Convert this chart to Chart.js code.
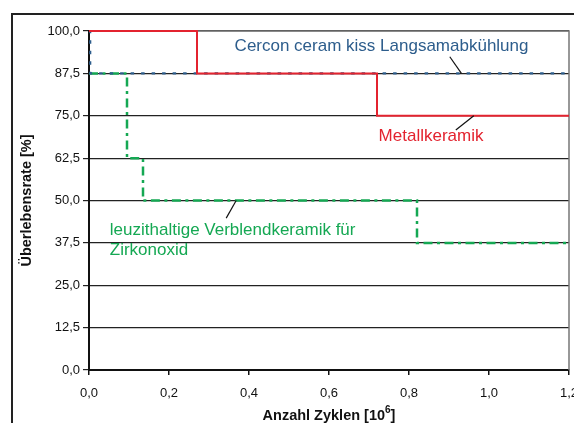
<!DOCTYPE html>
<html>
<head>
<meta charset="utf-8">
<style>
  html, body { margin: 0; padding: 0; background: #fff; overflow: hidden; }
  #wrap { position: relative; width: 574px; height: 423px; }
  #frame { position: absolute; left: 11px; top: 13px; width: 620px; height: 480px; border: 2px solid #222; box-sizing: border-box; }
  canvas { position: absolute; left: 0; top: 0; }
</style>
</head>
<body>
<div id="wrap">
  <div id="frame"></div>
  <canvas id="myChart" width="574" height="423"></canvas>
</div>
<script src="https://cdn.jsdelivr.net/npm/chart.js"></script>
<script>
    // Anzahl Zyklen [10^6] / Überlebensrate [%], step points (value holds from x to next x)
    const metallX = [0, 0.27, 0.72, 1.2];
    const metallY = [100, 87.5, 75, 75];
    const cerconX = [0, 0.003, 1.2];
    const cerconY = [100, 87.5, 87.5];
    const leuzitX = [0, 0.095, 0.135, 0.82, 1.2];
    const leuzitY = [87.5, 62.5, 50, 37.5, 37.5];

    const yTicks = [0, 12.5, 25, 37.5, 50, 62.5, 75, 87.5, 100];
    const xTicks = [0, 0.2, 0.4, 0.6, 0.8, 1.0, 1.2];

    // labels with leader lines, in data units
    const notes = [
        { text: ['Cercon ceram kiss Langsamabkühlung'], x: 0.364, y: 95.4, color: '#2d5d8c', line: [0.902, 92.4, 0.931, 87.5] },
        { text: ['Metallkeramik'], x: 0.724, y: 68.8, color: '#e3232f', line: [0.917, 70.8, 0.962, 75] },
        { text: ['leuzithaltige Verblendkeramik für', 'Zirkonoxid'], x: 0.052, y: 41.1, color: '#15a853', line: [0.368, 50, 0.343, 44.8] }
    ];

    function points(xs, ys) {
        return xs.map(function (x, i) { return { x: x, y: ys[i] }; });
    }

    const fontFamily = '"Liberation Sans", Arial, sans-serif';

    const notesPlugin = {
        id: 'notes',
        afterDatasetsDraw: function (chart) {
            const ctx = chart.ctx;
            const xs = chart.scales.x;
            const ys = chart.scales.y;
            ctx.save();
            for (let n of notes) {
                ctx.strokeStyle = '#111';
                ctx.lineWidth = 1.2;
                ctx.beginPath();
                ctx.moveTo(xs.getPixelForValue(n.line[0]), ys.getPixelForValue(n.line[1]));
                ctx.lineTo(xs.getPixelForValue(n.line[2]), ys.getPixelForValue(n.line[3]));
                ctx.stroke();
                ctx.fillStyle = n.color;
                ctx.font = '17px ' + fontFamily;
                ctx.textBaseline = 'middle';
                ctx.textAlign = 'left';
                n.text.forEach(function (t, i) {
                    ctx.fillText(t, xs.getPixelForValue(n.x), ys.getPixelForValue(n.y) + i * 19.5);
                });
            }
            // x axis title with superscript
            const a = chart.chartArea;
            const main = 'Anzahl Zyklen [10';
            const sup = '6';
            const tail = ']';
            ctx.fillStyle = '#111';
            ctx.textBaseline = 'alphabetic';
            ctx.font = 'bold 14.5px ' + fontFamily;
            const w1 = ctx.measureText(main).width;
            const w3 = ctx.measureText(tail).width;
            ctx.font = 'bold 10px ' + fontFamily;
            const w2 = ctx.measureText(sup).width;
            let x = (a.left + a.right) / 2 - (w1 + w2 + w3) / 2;
            const base = 419.5;
            ctx.font = 'bold 14.5px ' + fontFamily;
            ctx.fillText(main, x, base);
            ctx.font = 'bold 10px ' + fontFamily;
            ctx.fillText(sup, x + w1, base - 6.5);
            ctx.font = 'bold 14.5px ' + fontFamily;
            ctx.fillText(tail, x + w1 + w2, base);
            ctx.restore();
        }
    };

    const borderPlugin = {
        id: 'plotBorder',
        beforeDatasetsDraw: function (chart) {
            const a = chart.chartArea;
            const ctx = chart.ctx;
            ctx.save();
            ctx.strokeStyle = '#777';
            ctx.lineWidth = 1.5;
            ctx.beginPath();
            ctx.moveTo(a.left, a.top);
            ctx.lineTo(a.right, a.top);
            ctx.lineTo(a.right, a.bottom);
            ctx.stroke();
            ctx.restore();
        }
    };

    const data = {
        datasets: [{
            label: 'Metallkeramik',
            data: points(metallX, metallY),
            borderColor: '#e3232f',
            borderWidth: 2,
            stepped: 'before',
            pointRadius: 0
        }, {
            label: 'Cercon ceram kiss Langsamabkühlung',
            data: points(cerconX, cerconY),
            borderColor: '#2d5d8c',
            borderWidth: 2.2,
            borderDash: [3.5, 7],
            stepped: 'before',
            pointRadius: 0
        }, {
            label: 'leuzithaltige Verblendkeramik für Zirkonoxid',
            data: points(leuzitX, leuzitY),
            borderColor: '#15a853',
            borderWidth: 2.5,
            borderDash: [9, 4.5, 3, 4.5],
            stepped: 'before',
            pointRadius: 0
        }]
    };

    const config = {
        type: 'line',
        data: data,
        plugins: [borderPlugin, notesPlugin],
        options: {
            responsive: false,
            animation: false,
            clip: false,
            layout: { padding: { left: 0, top: 31, right: 5, bottom: 0 } },
            plugins: { legend: { display: false }, tooltip: { enabled: false } },
            scales: {
                x: {
                    type: 'linear',
                    min: 0,
                    max: 1.2,
                    afterBuildTicks: function (s) { s.ticks = xTicks.map(function (v) { return { value: v }; }); },
                    afterFit: function (s) { s.height = 53; s.paddingLeft = 0; s.paddingRight = 0; },
                    border: { color: '#111', width: 2 },
                    grid: { drawOnChartArea: false, drawTicks: true, tickLength: 5, color: '#111', lineWidth: 1.5 },
                    ticks: {
                        color: '#111',
                        padding: 11,
                        maxRotation: 0,
                        font: { family: fontFamily, size: 13 },
                        callback: function (v) { return v.toFixed(1).replace('.', ','); }
                    }
                },
                y: {
                    min: 0,
                    max: 100,
                    afterBuildTicks: function (s) { s.ticks = yTicks.map(function (v) { return { value: v }; }); },
                    afterFit: function (s) { s.width = 89; },
                    border: { color: '#111', width: 2 },
                    grid: { color: '#222', lineWidth: 1.2, tickLength: 6 },
                    ticks: {
                        color: '#111',
                        padding: 3,
                        font: { family: fontFamily, size: 13 },
                        callback: function (v) { return v.toFixed(1).replace('.', ','); }
                    },
                    title: {
                        display: true,
                        text: 'Überlebensrate [%]',
                        color: '#111',
                        padding: { top: 18, bottom: 0 },
                        font: { family: fontFamily, size: 14.5, weight: 'bold' }
                    }
                }
            }
        }
    };

    new Chart(document.getElementById('myChart'), config);
</script>
</body>
</html>
